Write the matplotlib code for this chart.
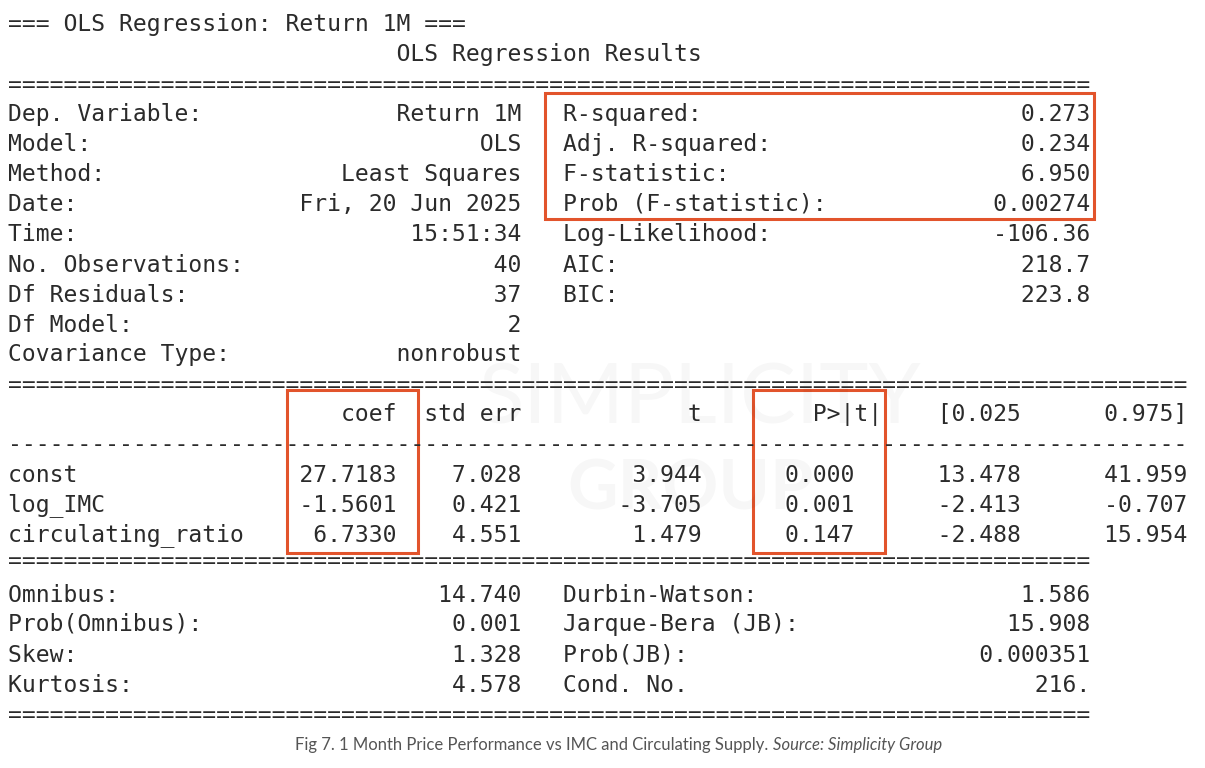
import matplotlib
matplotlib.use("Agg")
import matplotlib.pyplot as plt
from matplotlib.patches import Rectangle

title = "=== OLS Regression: Return 1M ==="
subtitle = "OLS Regression Results"
left_labels = ["Dep. Variable:", "Model:", "Method:", "Date:", "Time:", "No. Observations:",
               "Df Residuals:", "Df Model:", "Covariance Type:"]
left_values = ["Return 1M", "OLS", "Least Squares", "Fri, 20 Jun 2025", "15:51:34", "40", "37", "2", "nonrobust"]
right_labels = ["R-squared:", "Adj. R-squared:", "F-statistic:", "Prob (F-statistic):",
                "Log-Likelihood:", "AIC:", "BIC:"]
right_values = ["0.273", "0.234", "6.950", "0.00274", "-106.36", "218.7", "223.8"]
coef_header = ["coef", "std err", "t", "P>|t|", "[0.025", "0.975]"]
coef_names = ["const", "log_IMC", "circulating_ratio"]
coef = ["27.7183", "-1.5601", "6.7330"]
stderr = ["7.028", "0.421", "4.551"]
tvals = ["3.944", "-3.705", "1.479"]
pvals = ["0.000", "0.001", "0.147"]
ci_lo = ["13.478", "-2.413", "-2.488"]
ci_hi = ["41.959", "-0.707", "15.954"]
diag_left = ["Omnibus:", "Prob(Omnibus):", "Skew:", "Kurtosis:"]
diag_left_v = ["14.740", "0.001", "1.328", "4.578"]
diag_right = ["Durbin-Watson:", "Jarque-Bera (JB):", "Prob(JB):", "Cond. No."]
diag_right_v = ["1.586", "15.908", "0.000351", "216."]

def place(parts, width):
    s = [" "] * width
    for txt, col, al in parts:
        start = col if al == "l" else col - len(txt)
        for i, c in enumerate(txt):
            if 0 <= start + i < width:
                s[start + i] = c
    return "".join(s).rstrip()

lines = []
lines.append((22, title))
lines.append((52, place([(subtitle, 28, "l")], 78)))
lines.append((83, "=" * 78))
y = 113
for i, (l, v) in enumerate(zip(left_labels, left_values)):
    parts = [(l, 0, "l"), (v, 37, "r")]
    if i < len(right_labels):
        parts += [(right_labels[i], 40, "l"), (right_values[i], 78, "r")]
    lines.append((y, place(parts, 78)))
    y += 30
lines.append((383, "=" * 85))
ends = [28, 37, 50, 63, 73, 85]
lines.append((413, place([(h, e, "r") for h, e in zip(coef_header, ends)], 85)))
lines.append((443, "-" * 85))
ends2 = [28, 37, 50, 61, 73, 85]
y = 473
for k in range(3):
    vals = [coef[k], stderr[k], tvals[k], pvals[k], ci_lo[k], ci_hi[k]]
    lines.append((y, place([(coef_names[k], 0, "l")] + [(v, e, "r") for v, e in zip(vals, ends2)], 85)))
    y += 30
lines.append((560, "=" * 78))
y = 593
for a, b, c, d in zip(diag_left, diag_left_v, diag_right, diag_right_v):
    lines.append((y, place([(a, 0, "l"), (b, 37, "r"), (c, 40, "l"), (d, 78, "r")], 78)))
    y += 30
lines.append((713, "=" * 78))

fig = plt.figure(figsize=(12.05, 7.68), dpi=100)
ax = fig.add_axes([0, 0, 1, 1])
ax.set_xlim(0, 1205)
ax.set_ylim(768, 0)
ax.axis("off")

ax.text(700, 400, "SIMPLICITY", fontsize=60, color="#000000", alpha=0.03, ha="center", va="center",
        family="Lato")
ax.text(690, 490, "GROUP", fontsize=50, color="#000000", alpha=0.03, ha="center", va="center",
        family="Lato", fontweight="bold")

for yy, s in lines:
    ax.text(8, yy + 2, s, family="DejaVu Sans Mono", fontsize=16.6, color="#2b2b2b",
            ha="left", va="center")

red = "#e2542c"
for (x0, y0, x1, y1) in [(545, 93, 1094, 219), (287, 390, 418, 553), (753, 390, 885, 553)]:
    ax.add_patch(Rectangle((x0, y0), x1 - x0, y1 - y0, fill=False, edgecolor=red, linewidth=2.2))

ax.text(768, 745, "Fig 7. 1 Month Price Performance vs IMC and Circulating Supply.", family="Lato",
        fontsize=12, color="#555555", ha="right", va="center")
ax.text(773, 745, "Source: Simplicity Group", family="Lato", fontstyle="italic",
        fontsize=12, color="#555555", ha="left", va="center")

fig.savefig("out.png", dpi=100, facecolor="white")
